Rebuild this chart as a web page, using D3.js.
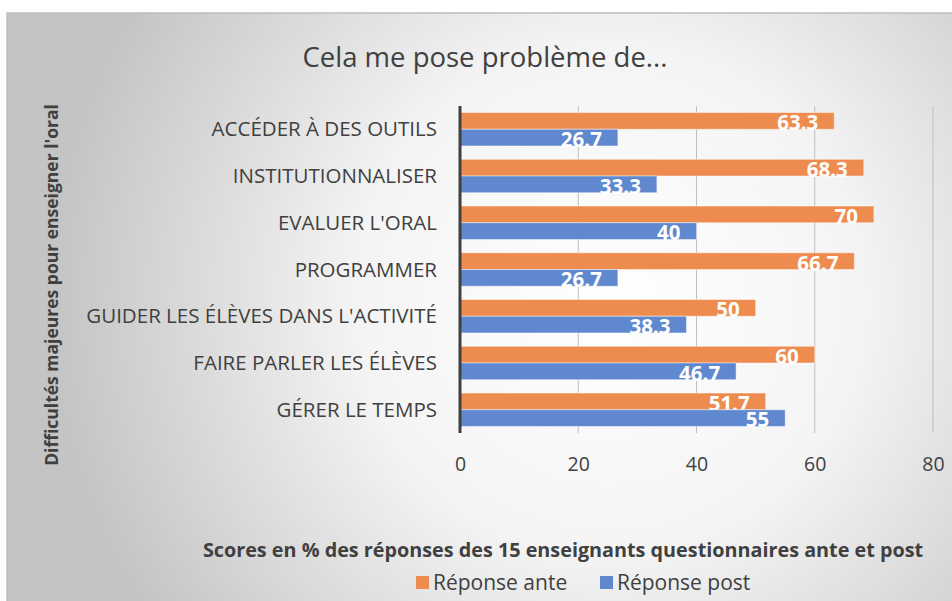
<!DOCTYPE html>
<html lang="fr">
<head>
<meta charset="utf-8">
<title>Cela me pose problème de...</title>
<script src="https://cdn.jsdelivr.net/npm/d3@7"></script>
<style>
  body { margin: 0; background: #fff; }
  svg text { font-family: "Open Sans", "Noto Sans", sans-serif; fill: #404040; }
  .val { fill: #fff; font-weight: bold; font-size: 20.5px; text-anchor: end; }
  .cat { font-size: 20.5px; text-anchor: end; }
  .tick text { font-size: 19.5px; fill: #404040; }
</style>
</head>
<body>
<script>
// donnees
var categories = ["ACCÉDER À DES OUTILS", "INSTITUTIONNALISER", "EVALUER L'ORAL", "PROGRAMMER",
  "GUIDER LES ÉLÈVES DANS L'ACTIVITÉ", "FAIRE PARLER LES ÉLÈVES", "GÉRER LE TEMPS"];
var ante = [63.3, 68.3, 70, 66.7, 50, 60, 51.7];
var post = [26.7, 33.3, 40, 26.7, 38.3, 46.7, 55];
var seriesNames = ["Réponse ante", "Réponse post"];
var colors = ["#ee8c4f", "#5f88cf"];
var xTicks = [0, 20, 40, 60, 80];

var w = 952, h = 601;
var plotLeft = 460, plotRight = 933, plotTop = 106, plotBottom = 433;

var svg = d3.select("body").append("svg")
  .attr("width", w).attr("height", h);

// fond degrade
var defs = svg.append("defs");
var grad = defs.append("radialGradient").attr("id", "bg")
  .attr("gradientUnits", "userSpaceOnUse")
  .attr("cx", 610).attr("cy", 300).attr("r", 560);
grad.append("stop").attr("offset", "0%").attr("stop-color", "#ffffff");
grad.append("stop").attr("offset", "45%").attr("stop-color", "#f4f4f4");
grad.append("stop").attr("offset", "100%").attr("stop-color", "#c4c4c4");

svg.append("rect").attr("x", 7).attr("y", 13).attr("width", w).attr("height", h)
  .attr("fill", "url(#bg)").attr("stroke", "#bdbdbd").attr("stroke-width", 1.5);

var x = d3.scaleLinear().domain([0, 80]).range([plotLeft, plotRight]);
var y = d3.scaleBand().domain(categories).range([plotTop, plotBottom]).paddingInner(0.285).paddingOuter(0.14);
var ySub = d3.scaleBand().domain([0, 1]).range([0, y.bandwidth()]);

// grille
svg.append("g").selectAll("line").data(xTicks.slice(1)).enter().append("line")
  .attr("x1", function(d) { return x(d); }).attr("x2", function(d) { return x(d); })
  .attr("y1", plotTop).attr("y2", plotBottom)
  .attr("stroke", "#bfbfbf").attr("stroke-width", 1);

// barres
var groups = svg.append("g").selectAll("g").data(categories).enter().append("g")
  .attr("transform", function(d) { return "translate(0," + y(d) + ")"; });

[ante, post].forEach(function(values, s) {
  groups.append("rect")
    .attr("x", x(0))
    .attr("y", ySub(s))
    .attr("width", function(d, i) { return x(values[i]) - x(0); })
    .attr("height", ySub.bandwidth())
    .attr("fill", colors[s])
    .attr("stroke", "rgba(255,255,255,0.45)")
    .attr("stroke-width", 1);
  groups.append("text")
    .attr("class", "val")
    .attr("x", function(d, i) { return x(values[i]) - 16; })
    .attr("y", ySub(s) + ySub.bandwidth() + 1)
    .text(function(d, i) { return values[i]; });
});

// axe x
var xAxis = svg.append("g")
  .attr("transform", "translate(0," + plotBottom + ")")
  .call(d3.axisBottom(x).tickValues(xTicks).tickSize(0).tickPadding(24));
xAxis.select(".domain").remove();

// axe y
svg.append("line").attr("x1", plotLeft).attr("x2", plotLeft).attr("y1", plotTop).attr("y2", plotBottom)
  .attr("stroke", "#404040").attr("stroke-width", 3);

svg.append("g").selectAll("text").data(categories).enter().append("text")
  .attr("class", "cat")
  .attr("x", 437)
  .attr("y", function(d) { return y(d) + y.bandwidth() / 2 + 7; })
  .text(function(d) { return d; });

// titres
svg.append("text").attr("x", 485).attr("y", 67).attr("text-anchor", "middle")
  .style("font-size", "27.5px").text("Cela me pose problème de...");

svg.append("text").attr("transform", "translate(58,285) rotate(-90)")
  .attr("text-anchor", "middle").style("font-size", "17.5px").style("font-weight", "bold")
  .text("Difficultés majeures pour enseigner l'oral");

svg.append("text").attr("x", 563).attr("y", 557).attr("text-anchor", "middle")
  .style("font-size", "19.8px").style("font-weight", "bold")
  .text("Scores en % des réponses des 15 enseignants questionnaires ante et post");

// legende
var legendX = [416, 600];
var leg = svg.append("g").selectAll("g").data(seriesNames).enter().append("g")
  .attr("transform", function(d, i) { return "translate(" + legendX[i] + ",576)"; });
leg.append("rect").attr("width", 13).attr("height", 13)
  .attr("fill", function(d, i) { return colors[i]; });
leg.append("text").attr("x", 17).attr("y", 14).style("font-size", "21px")
  .text(function(d) { return d; });
</script>
</body>
</html>
